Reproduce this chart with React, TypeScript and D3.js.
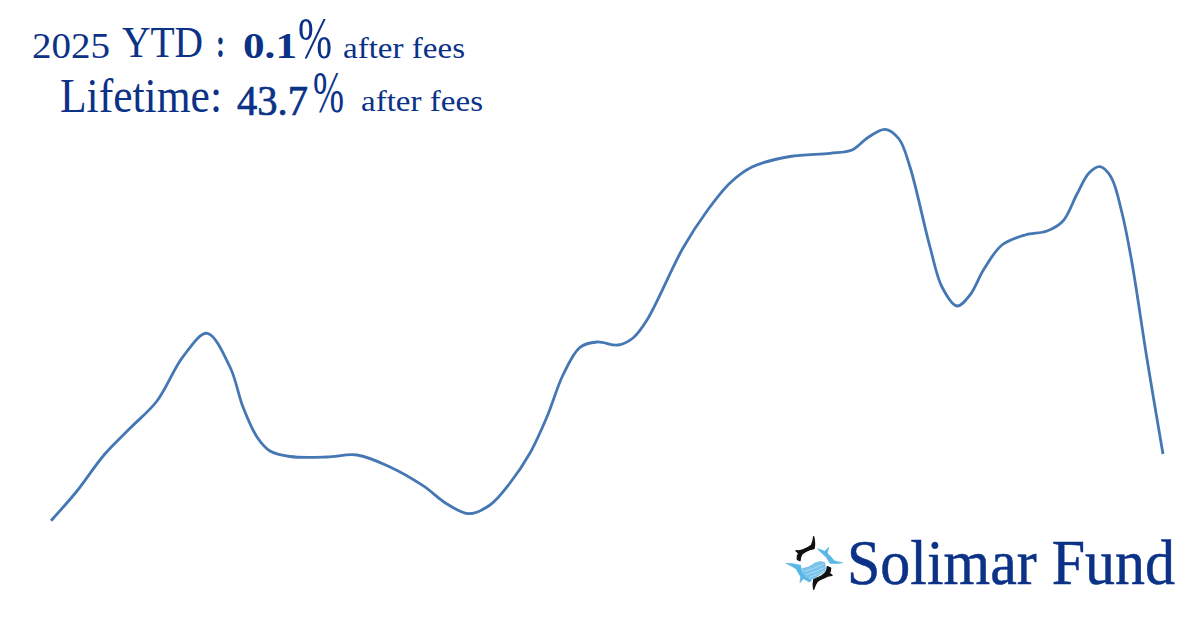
import React from "react";
import * as d3 from "d3";

// The chart has no axes: x is elapsed position and y is gain above the start, both in arbitrary units read from the picture.
const positions = [0,26,53,79,106,132,156,179,192,206,219,239,276,306,339,372,396,418,439,459,479,496,512,529,546,567,582,596,632,656,679,701,739,779,801,817,834,848,859,879,891,906,919,933,951,974,996,1012,1026,1038,1049,1060,1071,1081,1096,1112];
const gains = [-0.7,29,65,91.7,119,163.3,186.7,153,113,83,69,63.5,63,65,53,34.3,16,6.3,15,37,67,103.3,145,172.7,178,175,182,200,272,309,337,353,363.5,366.7,370,382.5,390.7,381,353,273,233,214,225,251,275,285,289,299,326,347,353.3,343,307,257,161,66];

const headline = [
  { t: "2025", x: 32, w: 78, y: 58, s: 35, weight: 400, stroke: 0 },
  { t: "YTD", x: 122, w: 81, y: 57, s: 45, weight: 400, stroke: 0 },
  { t: ":", x: 216, w: 9, y: 57, s: 42, weight: 700, stroke: 0 },
  { t: "0.1", x: 243, w: 54, y: 58, s: 36, weight: 700, stroke: 0 },
  { t: "%", x: 298, w: 34, y: 58, s: 60, weight: 400, stroke: 0 },
  { t: "after fees", x: 343, w: 122, y: 57.5, s: 29, weight: 400, stroke: 0 },
  { t: "Lifetime:", x: 60, w: 162, y: 111.5, s: 48, weight: 400, stroke: 0 },
  { t: "43.7", x: 237, w: 71, y: 115, s: 42, weight: 400, stroke: 0.7 },
  { t: "%", x: 313, w: 31, y: 112, s: 60, weight: 400, stroke: 0 },
  { t: "after fees", x: 361, w: 122, y: 110.5, s: 29, weight: 400, stroke: 0 },
];

const brandName = "Solimar Fund";
const ink = "#0b3287";
const lineColor = "#4577b3";
const sky = "#58b7e6";

const x = d3.scaleLinear().domain([0, 1112]).range([51, 1163]);
const y = d3.scaleLinear().domain([0, 391]).range([520, 129]);
const lineGen = d3.line<number>()
  .x((_, i) => x(positions[i]))
  .y((d) => y(d))
  .curve(d3.curveCatmullRom.alpha(0.5));

function Logo() {
  return (
    <g transform="translate(780,530) scale(0.3333)">
      <path d="M101,20 Q106,42 102,56 Q80,60 66,72 Q60,80 60,92 L52,88 Q50,78 56,70 L48,62 Q62,64 72,58 Q88,52 94,46 Q100,36 101,20 Z" fill="#111" stroke="#111" strokeWidth={4} strokeLinejoin="round" />
      <path d="M101,178 Q98,160 102,146 Q124,142 136,128 Q142,120 142,110 L152,114 Q152,124 148,130 L156,136 Q142,136 132,144 Q118,150 112,154 Q106,162 101,178 Z" fill="#111" stroke="#111" strokeWidth={4} strokeLinejoin="round" />
      <path d="M113,56 Q126,60 134,64 L146,52 L142,70 Q154,80 162,92 Q174,96 188,98 Q168,102 150,100 Q142,82 126,70 Q118,64 113,56 Z" fill={sky} stroke={sky} strokeWidth={2} />
      <path d="M18,100 Q40,100 62,106 Q62,124 76,138 Q86,146 96,150 L88,156 Q78,150 70,146 L60,158 L62,140 Q54,128 48,116 Q34,108 18,100 Z" fill={sky} stroke={sky} strokeWidth={2} />
      <path d="M66,114 Q86,112 104,98 Q118,90 134,96 Q140,112 136,124 Q118,136 104,146 Q88,150 76,140 Q66,128 66,114 Z" fill="#79c3ea" />
      <path d="M72,124 Q98,118 132,102 M78,134 Q104,128 134,112 M88,142 Q110,134 134,122" stroke="#a8dbf4" strokeWidth={3} fill="none" />
    </g>
  );
}

export default function App() {
  return (
    <svg width={1200} height={630} viewBox="0 0 1200 630"
      style={{ position: "absolute", left: 0, top: 0, background: "#fff" }}>
      <path d={lineGen(gains) ?? ""} fill="none" stroke={lineColor} strokeWidth={2.8} />
      <g fontFamily="'Liberation Serif', serif" fill={ink} stroke={ink} strokeWidth={0}>
        {headline.map((p) => (
          <text key={p.t + p.x} x={p.x} y={p.y} fontSize={p.s} fontWeight={p.weight} strokeWidth={p.stroke}
            textLength={p.w} lengthAdjust="spacingAndGlyphs">{p.t}</text>
        ))}
        <text x={847} y={584} fontSize={63} strokeWidth={0.5} textLength={328} lengthAdjust="spacingAndGlyphs">{brandName}</text>
      </g>
      <Logo />
    </svg>
  );
}
